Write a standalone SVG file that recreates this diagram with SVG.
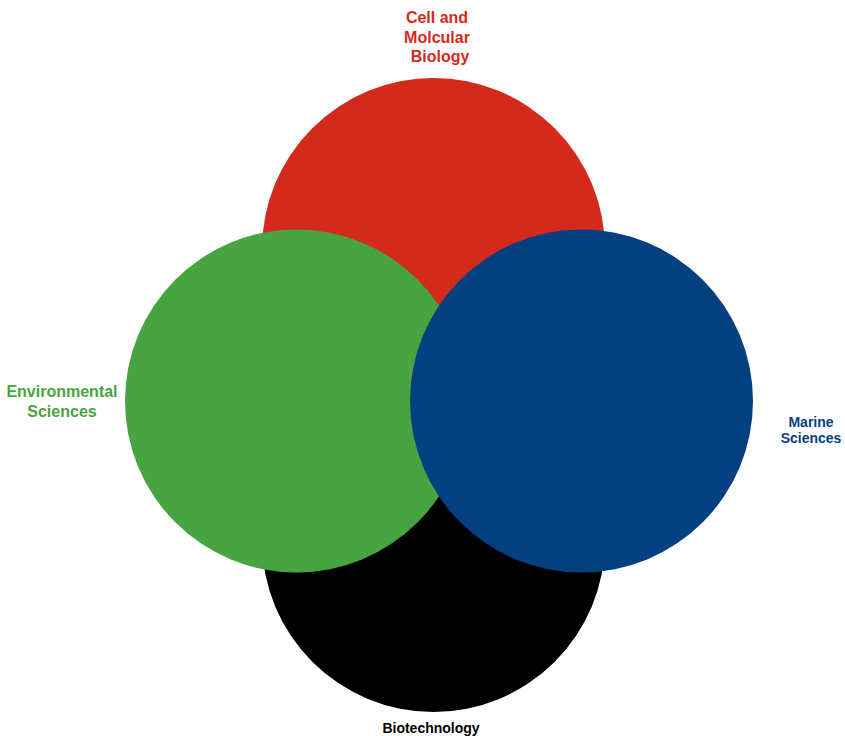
<svg xmlns="http://www.w3.org/2000/svg" width="845" height="736" viewBox="0 0 845 736">
<style>
text{font-family:"Liberation Sans",Arial,sans-serif;font-weight:bold;text-anchor:middle}
.red{fill:#d42a1c}.green{fill:#48a441}.blue{fill:#043f80}.black{fill:#000}
</style>
<rect width="845" height="736" fill="#fff"/>
<g id="connectors"></g>
<g id="cell-molecular">
<circle class="red" cx="433.5" cy="249.5" r="171.5"/>
<text class="red" font-size="16"><tspan x="437" y="23">Cell and</tspan><tspan x="437" y="43">Molcular</tspan><tspan x="440" y="62">Biology</tspan></text>
</g>
<g id="biotechnology">
<circle class="black" cx="433.5" cy="540.5" r="171.5"/>
<text class="black" font-size="14" x="431" y="733">Biotechnology</text>
</g>
<g id="environmental">
<circle class="green" cx="296.5" cy="401" r="171.5"/>
<text class="green" font-size="16"><tspan x="62" y="397">Environmental</tspan><tspan x="62" y="417">Sciences</tspan></text>
</g>
<g id="marine">
<circle class="blue" cx="581.5" cy="401" r="171.5"/>
<text class="blue" font-size="14"><tspan x="811" y="427">Marine</tspan><tspan x="811" y="443">Sciences</tspan></text>
</g>
</svg>
